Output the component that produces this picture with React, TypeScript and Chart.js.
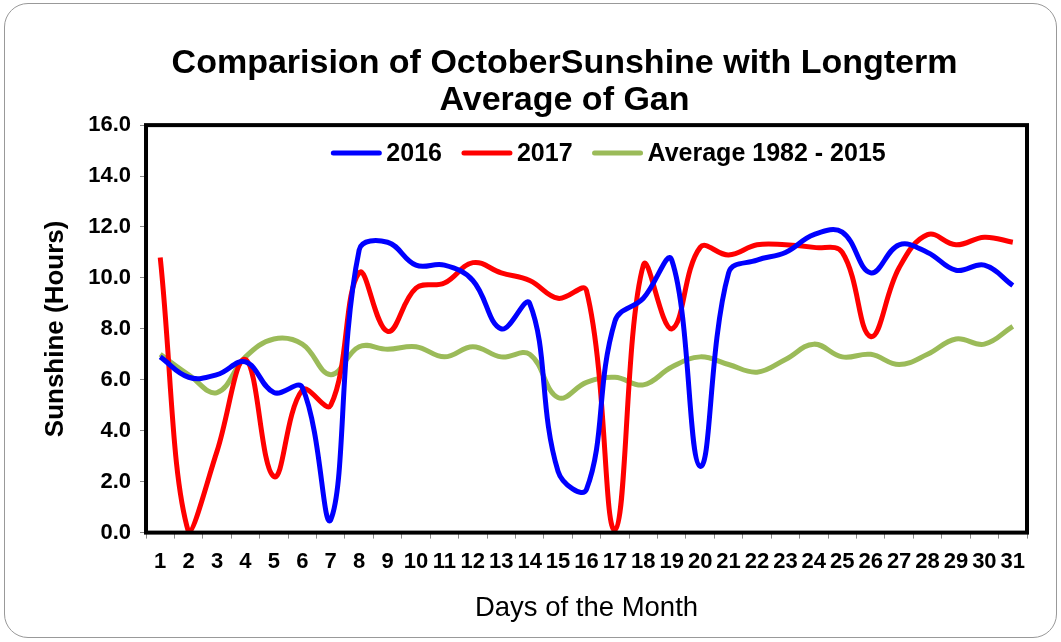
import React, { useEffect, useRef } from 'react';
import { Chart, registerables } from 'chart.js';

Chart.register(...registerables);

const days = ['1', '2', '3', '4', '5', '6', '7', '8', '9', '10', '11', '12', '13', '14', '15', '16', '17', '18', '19', '20', '21', '22', '23', '24', '25', '26', '27', '28', '29', '30', '31'];

const sun2016 = [6.9, 6.1, 6.2, 6.7, 5.5, 5.7, 0.5, 11.1, 11.4, 10.5, 10.5, 9.9, 8.0, 9.0, 2.4, 1.7, 8.3, 9.2, 10.7, 2.6, 10.2, 10.7, 11.0, 11.7, 11.8, 10.2, 11.3, 11.0, 10.3, 10.5, 9.7];

const sun2017 = [10.8, 0.0, 3.2, 6.8, 2.2, 5.6, 5.0, 10.2, 7.9, 9.6, 9.8, 10.6, 10.2, 9.9, 9.2, 9.5, 0.1, 10.5, 8.0, 11.2, 10.9, 11.3, 11.3, 11.2, 11.0, 7.7, 10.4, 11.7, 11.3, 11.6, 11.4];

const avg1982_2015 = [7.0, 6.2, 5.5, 6.9, 7.6, 7.4, 6.2, 7.3, 7.2, 7.3, 6.9, 7.3, 6.9, 7.0, 5.3, 5.9, 6.1, 5.8, 6.5, 6.9, 6.6, 6.3, 6.8, 7.4, 6.9, 7.0, 6.6, 7.0, 7.6, 7.4, 8.1];

const seriesNames = ['2016', '2017', 'Average 1982 - 2015'];
const yMin = 0;
const yMax = 16;
const yStep = 2;

const FONT = '"Liberation Sans", Arial, Helvetica, sans-serif';

const plotBorder = {
  id: 'plotBorder',
  afterDatasetsDraw(chart: any) {
    const { ctx, chartArea } = chart;
    const { left, top, right, bottom } = chartArea;
    ctx.save();
    ctx.strokeStyle = '#000000';
    ctx.lineWidth = 4;
    ctx.strokeRect(left, top, right - left, bottom - top);
    ctx.restore();
  },
};

// shift the title block so it is centred like the original
const titleShift = {
  id: 'titleShift',
  afterLayout(chart: any) {
    const tb = chart.titleBlock;
    if (tb) {
      tb.left += 31;
      tb.right += 31;
    }
  },
};

// Horizontal legend drawn inside the plot area (Excel style)
const insideLegend = {
  id: 'insideLegend',
  afterDraw(chart: any) {
    const { ctx, chartArea } = chart;
    const datasets = chart.data.datasets;
    const lineLen = 50;
    const textGap = 5;
    const itemGap = 20;
    ctx.save();
    ctx.font = `bold 25px ${FONT}`;
    const widths = datasets.map((d: any) => lineLen + textGap + ctx.measureText(d.label).width);
    const total = widths.reduce((a: number, b: number) => a + b, 0) + itemGap * (datasets.length - 1);
    const center = (chartArea.left + chartArea.right) / 2 + 22;
    let x = center - total / 2;
    const y = chartArea.top + 28;
    datasets.forEach((d: any, i: number) => {
      ctx.strokeStyle = d.borderColor;
      ctx.lineWidth = 5;
      ctx.lineCap = 'round';
      ctx.beginPath();
      ctx.moveTo(x + 2, y);
      ctx.lineTo(x + lineLen - 2, y);
      ctx.stroke();
      ctx.fillStyle = '#000';
      ctx.textBaseline = 'middle';
      ctx.textAlign = 'left';
      ctx.fillText(d.label, x + lineLen + textGap, y + 1);
      x += widths[i] + itemGap;
    });
    ctx.restore();
  },
};

export default function App() {
  const canvasRef = useRef<HTMLCanvasElement | null>(null);

  useEffect(() => {
    if (!canvasRef.current) return;
    const chart = new Chart(canvasRef.current, {
      type: 'line',
      data: {
        labels: days,
        datasets: [
          {
            label: seriesNames[0],
            data: sun2016,
            borderColor: '#0000FF',
            backgroundColor: '#0000FF',
            borderWidth: 5,
            pointRadius: 0,
            tension: 0.4,
          },
          {
            label: seriesNames[1],
            data: sun2017,
            borderColor: '#FF0000',
            backgroundColor: '#FF0000',
            borderWidth: 5,
            pointRadius: 0,
            tension: 0.4,
          },
          {
            label: seriesNames[2],
            data: avg1982_2015,
            borderColor: '#9BBB59',
            backgroundColor: '#9BBB59',
            borderWidth: 5,
            pointRadius: 0,
            tension: 0.4,
          },
        ],
      },
      options: {
        responsive: false,
        animation: false,
        devicePixelRatio: 1,
        layout: { padding: { left: 40, right: 34, top: 45, bottom: 17 } },
        plugins: {
          title: {
            display: true,
            text: ['Comparision of OctoberSunshine with Longterm', 'Average of Gan'],
            color: '#000',
            font: { family: FONT, size: 34, weight: 'bold', lineHeight: 1.09 },
            padding: { top: 0, bottom: 6 },
          },
          legend: { display: false },
          tooltip: { enabled: false },
        },
        scales: {
          x: {
            offset: true,
            grid: { offset: true, drawOnChartArea: false, drawTicks: true, tickLength: 6, color: '#888' },
            border: { display: false },
            ticks: {
              color: '#000',
              font: { family: FONT, size: 22, weight: 'bold' },
              autoSkip: false,
              maxRotation: 0,
              padding: 10,
            },
            title: {
              display: true,
              text: 'Days of the Month',
              color: '#000',
              font: { family: FONT, size: 27.5 },
              padding: { top: 7, bottom: 0 },
            },
          },
          y: {
            min: yMin,
            max: yMax,
            grid: { drawOnChartArea: false, drawTicks: true, tickLength: 6, color: '#888' },
            border: { display: false },
            ticks: {
              stepSize: yStep,
              color: '#000',
              font: { family: FONT, size: 22, weight: 'bold' },
              padding: 9,
              callback: (v: any) => Number(v).toFixed(1),
            },
            title: {
              display: true,
              text: 'Sunshine (Hours)',
              color: '#000',
              font: { family: FONT, size: 26, weight: 'bold' },
              padding: { top: 0, bottom: 8 },
            },
          },
        },
      },
      plugins: [titleShift, plotBorder, insideLegend],
    });
    return () => chart.destroy();
  }, []);

  return (
    <div style={{ position: 'fixed', left: 0, top: 0, width: 1061, height: 642, background: '#fff' }}>
      <div
        style={{
          position: 'absolute',
          left: 4,
          top: 3,
          width: 1053,
          height: 635,
          border: '1px solid #999',
          borderRadius: 24,
          boxSizing: 'border-box',
        }}
      />
      <canvas ref={canvasRef} width={1061} height={642} style={{ position: 'absolute', left: 0, top: 0 }} />
    </div>
  );
}
